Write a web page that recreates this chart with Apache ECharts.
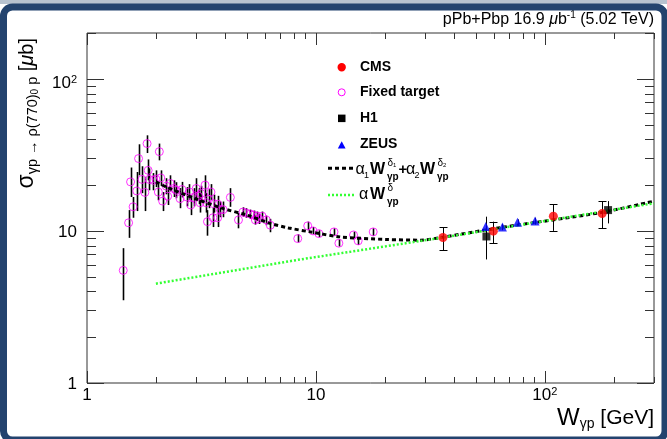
<!DOCTYPE html>
<html><head><meta charset="utf-8">
<script src="https://cdn.jsdelivr.net/npm/echarts@6/dist/echarts.min.js"></script>
<style>html,body{margin:0;padding:0;background:#fff}#c{width:667px;height:439px}</style>
</head><body><div id="c"></div>
<script>
// ---- axis ranges & ticks ----
var xRange = [1, 300];
var yRange = [1, 200];
var xTickMajor = [1, 10, 100];
var xTickMinor = [2,3,4,5,6,7,8,9,20,30,40,50,60,70,80,90,200,300];
var yTickMajor = [1, 10, 100];
var yTickMinor = [2,3,4,5,6,7,8,9,20,30,40,50,60,70,80,90,200];

// ---- Fixed target (W [GeV], sigma [ub], lower, upper) ----
var ftW =     [1.44,1.52,1.59,1.55,1.65,1.68,1.74,1.79,1.83,1.85,1.87,1.95,2.07,2.00,2.05,2.10,2.14,2.22,2.25,2.31,2.39,2.45,2.55,2.60,2.73,2.80,2.84,2.92,3.00,3.07,3.15,3.12,3.28,3.32,3.40,3.48,3.57,3.36,3.55,3.72,3.72,3.82,3.93,4.23,4.59,4.80,4.96,5.17,5.34,5.53,5.64,5.82,6.07,6.32,8.33,9.21,9.72,10.3,12.0,12.6,14.6,15.3,17.8,5.44];
var ftSigma = [5.5,11.3,14.4,21.0,18.3,29.9,21.8,17.9,37.5,25.0,21.8,21.5,33.2,21.9,18.0,22.3,15.7,19.7,16.9,20.5,19.0,18.5,16.3,18.7,16.7,18.0,14.8,16.6,19.0,16.9,17.6,15.3,20.0,15.3,16.1,18.0,15.1,11.5,12.2,15.0,12.2,13.8,13.8,16.6,11.8,13.3,13.1,12.9,12.7,12.5,12.0,12.5,11.8,10.9,8.9,10.8,10.0,9.6,9.85,8.3,9.4,8.6,9.85,11.8];
var ftLow =   [3.5,9.0,12.2,16.7,13.5,23.2,17.7,13.5,32.5,21.5,18.5,18.5,29.1,19.4,15.9,19.7,13.5,17.4,14.8,18.2,16.7,16.4,14.1,16.6,14.5,16.0,12.7,14.5,16.4,15.0,15.7,13.2,16.4,13.2,14.1,16.0,13.2,9.3,10.6,13.3,10.6,12.3,12.3,14.4,10.4,12.4,12.2,12.0,11.8,11.6,11.1,11.6,10.9,9.8,8.4,10.1,9.5,9.1,9.3,7.9,8.9,8.1,9.3,11.0];
var ftHigh =  [7.7,13.7,16.7,26.1,24.4,37.1,26.6,22.6,42.5,29.5,25.8,24.0,37.5,25.0,20.6,25.0,18.0,22.2,19.4,23.2,21.5,20.9,19.1,21.0,19.4,20.3,17.2,19.1,22.2,19.1,19.8,17.7,23.2,17.7,18.8,20.3,17.3,13.7,14.2,17.0,14.2,15.6,15.6,19.1,13.1,14.3,14.1,13.8,13.6,13.4,12.9,13.4,12.6,12.0,9.5,11.5,10.6,10.1,10.4,8.8,9.9,9.1,10.4,12.6];

// ---- CMS ----
var cmsW = [35.9, 59.6, 109, 178];
var cmsSigma = [9.05, 9.96, 12.5, 13.0];
var cmsLow = [7.47, 8.27, 10.0, 10.4];
var cmsHigh = [10.6, 11.5, 15.0, 15.7];

// ---- H1 ----
var h1W = [55.6, 189];
var h1Sigma = [9.19, 13.7];
var h1Low = [6.49, 11.2];
var h1High = [12.4, 15.7];

// ---- ZEUS ----
var zeusW = [55.2, 65.3, 76.0, 90.7];
var zeusSigma = [10.7, 10.6, 11.4, 11.6];
var zeusLow = [10.2, 10.1, 10.9, 11.0];
var zeusHigh = [11.2, 11.1, 11.9, 12.2];

// ---- fit curves ----
var fit2W = [2, 2.23, 3, 3.95, 5.0, 6.32, 7.58, 9.46, 12.8, 20.5, 28.7, 35.1, 66.4, 176, 300];
var fit2Sigma = [21, 19.4, 16.2, 14.0, 12.7, 11.2, 10.46, 9.85, 9.13, 8.78, 8.69, 9.05, 10.6, 13.2, 15.7];
var fit1W = [2, 8.55, 35.1, 300];
var fit1Sigma = [4.5, 6.49, 9.0, 15.2];

var FONT = '"Liberation Sans", Arial, Helvetica, sans-serif';

function zip(a, b) { return a.map(function (v, i) { return [v, b[i]]; }); }
function zip3(a, b, c) { return a.map(function (v, i) { return [v, b[i], c[i]]; }); }

function errRender(capHalf, lw) {
  return function (params, api) {
    var x = api.value(0), lo = api.value(1), hi = api.value(2);
    var a = api.coord([x, lo]), b = api.coord([x, hi]);
    var cx = Math.round(a[0]) + 0.5;
    var kids = [{ type: 'line', shape: { x1: cx, y1: a[1], x2: cx, y2: b[1] }, style: { stroke: '#000', lineWidth: lw } }];
    if (capHalf) {
      kids.push({ type: 'line', shape: { x1: cx - capHalf, y1: Math.round(a[1]) + 0.5, x2: cx + capHalf, y2: Math.round(a[1]) + 0.5 }, style: { stroke: '#000', lineWidth: 1 } });
      kids.push({ type: 'line', shape: { x1: cx - capHalf, y1: Math.round(b[1]) + 0.5, x2: cx + capHalf, y2: Math.round(b[1]) + 0.5 }, style: { stroke: '#000', lineWidth: 1 } });
    }
    return { type: 'group', children: kids };
  };
}

function xTickRender(params, api) {
  var v = api.value(0), major = api.value(2);
  var b = api.coord([v, yRange[0]]), t = api.coord([v, yRange[1]]);
  var x = Math.round(b[0]) + 0.5, len = major ? 12 : 6;
  return { type: 'group', children: [
    { type: 'line', shape: { x1: x, y1: b[1], x2: x, y2: b[1] - len }, style: { stroke: '#333', lineWidth: 1 } },
    { type: 'line', shape: { x1: x, y1: t[1], x2: x, y2: t[1] + len }, style: { stroke: '#333', lineWidth: 1 } }
  ] };
}
function yTickRender(params, api) {
  var v = api.value(1), major = api.value(2);
  var l = api.coord([xRange[0], v]), r = api.coord([xRange[1], v]);
  var y = Math.round(l[1]) + 0.5, len = major ? 17 : 9;
  return { type: 'group', children: [
    { type: 'line', shape: { x1: l[0], y1: y, x2: l[0] + len, y2: y }, style: { stroke: '#333', lineWidth: 1 } },
    { type: 'line', shape: { x1: r[0], y1: y, x2: r[0] - len, y2: y }, style: { stroke: '#333', lineWidth: 1 } }
  ] };
}

function powLabel(v, short) {
  var lg = Math.log10(v), e = Math.round(lg);
  if (Math.abs(lg - e) > 1e-6) return '';
  if (e === 0) return short + '|1}';
  if (e === 1) return short + '|10}';
  return '{p|10}{sup|' + e + '}';
}

var chart = echarts.init(document.getElementById('c'), null, { renderer: 'canvas' });

var xTickData = xTickMajor.map(function (v) { return [v, yRange[0], 1]; }).concat(xTickMinor.map(function (v) { return [v, yRange[0], 0]; }));
var yTickData = yTickMajor.map(function (v) { return [xRange[0], v, 1]; }).concat(yTickMinor.map(function (v) { return [xRange[0], v, 0]; }));

function lt(x, y, text, size, weight, extra) {
  var st = { text: text, fontSize: size, fontFamily: FONT, fontWeight: weight || 'normal', fill: '#000', align: 'left', verticalAlign: 'middle' };
  if (extra) for (var k in extra) st[k] = extra[k];
  return { type: 'text', x: x, y: y, style: st, z: 50 };
}

var graphics = [
  // outer frame
  { type: 'rect', shape: { x: 0, y: 0, width: 667, height: 4 }, style: { fill: '#b7c2cf' }, z: 99 },
  { type: 'rect', shape: { x: 3.5, y: 7, width: 661.5, height: 433, r: 9 }, style: { fill: null, stroke: '#23436e', lineWidth: 7 }, z: 100 },
  // title
  { type: 'text', x: 654, y: 20, z: 50, style: {
      text: '{n|pPb+Pbp 16.9 }{mu|μ}{n|b}{sup|-1}{n| (5.02 TeV)}', align: 'right', verticalAlign: 'middle',
      rich: {
        n: { fontSize: 16, fontFamily: FONT, fill: '#000', lineHeight: 20 },
        mu: { fontSize: 16, fontFamily: FONT, fontStyle: 'italic', fill: '#000', lineHeight: 20 },
        sup: { fontSize: 10, fontFamily: FONT, fill: '#000', lineHeight: 10, verticalAlign: 'top' }
      } } },
  // y title
  { type: 'text', x: 27, y: 38, rotation: Math.PI / 2, z: 50, style: {
      text: '{s|σ}{sb|γp → ρ(770)}{sp|0}{sb| p}{u| [}{mu|μ}{u|b]}', align: 'right', verticalAlign: 'middle',
      rich: {
        s: { fontSize: 23, fontFamily: FONT, fill: '#000', lineHeight: 26 },
        sb: { fontSize: 14.5, fontFamily: FONT, fill: '#000', lineHeight: 10, verticalAlign: 'bottom' },
        sp: { fontSize: 10, fontFamily: FONT, fill: '#000', lineHeight: 18, verticalAlign: 'bottom' },
        u: { fontSize: 20, fontFamily: FONT, fill: '#000', lineHeight: 26 },
        mu: { fontSize: 20, fontFamily: FONT, fontStyle: 'italic', fill: '#000', lineHeight: 26 }
      } } },
  // x title
  { type: 'text', x: 654, y: 418, z: 50, style: {
      text: '{w|W}{sb|γp}{g| [GeV]}', align: 'right', verticalAlign: 'middle',
      rich: {
        w: { fontSize: 24, fontFamily: FONT, fill: '#000', lineHeight: 26 },
        g: { fontSize: 21, fontFamily: FONT, fill: '#000', lineHeight: 26 },
        sb: { fontSize: 14, fontFamily: FONT, fill: '#000', lineHeight: 10, verticalAlign: 'bottom' }
      } } },
  // legend markers
  { type: 'circle', shape: { cx: 341.7, cy: 67.3, r: 4.2 }, style: { fill: '#ff0000' }, z: 50 },
  { type: 'circle', shape: { cx: 341.7, cy: 92.3, r: 3.5 }, style: { fill: null, stroke: '#ff00ff', lineWidth: 1 }, z: 50 },
  { type: 'rect', shape: { x: 338, y: 114.6, width: 7.5, height: 7.5 }, style: { fill: '#000' }, z: 50 },
  { type: 'polygon', shape: { points: [[341.7, 141.3], [345.6, 148.4], [337.8, 148.4]] }, style: { fill: '#0000ff' }, z: 50 },
  { type: 'line', shape: { x1: 328, y1: 168.3, x2: 354, y2: 168.3 }, style: { stroke: '#000', lineWidth: 3, lineDash: [4, 3] }, z: 50 },
  { type: 'line', shape: { x1: 328, y1: 195, x2: 354, y2: 195 }, style: { stroke: '#33ff33', lineWidth: 2.5, lineDash: [2, 2] }, z: 50 },
  lt(360, 67.3, 'CMS', 14, 'bold'),
  lt(360, 92.3, 'Fixed target', 14, 'bold'),
  lt(360, 118.3, 'H1', 14, 'bold'),
  lt(360, 144.3, 'ZEUS', 14, 'bold'),
  // row 5 formula
  lt(355.5, 170, 'α', 16),
  lt(364, 175.5, '1', 9),
  lt(370, 170, 'W', 16, 'bold'),
  lt(387.5, 163.5, 'δ', 10),
  lt(393, 165.5, '1', 6),
  lt(387, 177, 'γp', 10, 'bold'),
  lt(398.5, 170, '+', 15, 'bold'),
  lt(406, 170, 'α', 16),
  lt(414.5, 175.5, '2', 9),
  lt(420, 170, 'W', 16, 'bold'),
  lt(437.5, 163.5, 'δ', 10),
  lt(443, 165.5, '2', 6),
  lt(437, 177, 'γp', 10, 'bold'),
  // row 6 formula
  lt(359, 195, 'α', 16),
  lt(370, 195, 'W', 16, 'bold'),
  lt(387.5, 188.5, 'δ', 10),
  lt(387, 202, 'γp', 10, 'bold')
];

var option = {
  animation: false,
  backgroundColor: '#fff',
  textStyle: { fontFamily: FONT },
  grid: { left: 87, right: 13, top: 33, bottom: 56, show: true, borderColor: '#333', borderWidth: 1, backgroundColor: 'transparent', containLabel: false, outerBoundsMode: 'none' },
  xAxis: {
    type: 'log', logBase: 10, min: xRange[0], max: xRange[1],
    axisLine: { show: false }, axisTick: { show: false }, splitLine: { show: false }, minorTick: { show: false },
    axisLabel: {
      margin: 1, color: '#000', fontSize: 17, fontFamily: FONT, hideOverlap: false,
      formatter: function (v) { return powLabel(v, '{p'); },
      rich: {
        p: { fontSize: 17, fontFamily: FONT, color: '#000', lineHeight: 17, padding: [6, 0, 0, 0] },
        sup: { fontSize: 11, fontFamily: FONT, color: '#000', lineHeight: 11, padding: [2, 0, 0, 0], verticalAlign: 'top' }
      }
    }
  },
  yAxis: {
    type: 'log', logBase: 10, min: yRange[0], max: yRange[1],
    axisLine: { show: false }, axisTick: { show: false }, splitLine: { show: false }, minorTick: { show: false },
    axisLabel: {
      margin: 10, color: '#000', fontSize: 17, fontFamily: FONT, hideOverlap: false,
      formatter: function (v) { return powLabel(v, '{a'); },
      rich: {
        a: { fontSize: 17, fontFamily: FONT, color: '#000', lineHeight: 17, padding: [3, 0, 0, 0] },
        p: { fontSize: 17, fontFamily: FONT, color: '#000', lineHeight: 17, padding: [10, 0, 0, 0] },
        sup: { fontSize: 11, fontFamily: FONT, color: '#000', lineHeight: 12, padding: [4, 0, 0, 0], verticalAlign: 'top' }
      }
    }
  },
  tooltip: { show: false },
  graphic: graphics,
  series: [
    { type: 'custom', name: 'xticks', data: xTickData, encode: { x: 0, y: 1 }, renderItem: xTickRender, silent: true, clip: false, z: 5 },
    { type: 'custom', name: 'yticks', data: yTickData, encode: { x: 0, y: 1 }, renderItem: yTickRender, silent: true, clip: false, z: 5 },
    { type: 'custom', name: 'ftErr', data: zip3(ftW, ftLow, ftHigh), encode: { x: 0, y: [1, 2] }, renderItem: errRender(0, 1.6), silent: true, z: 2 },
    { type: 'scatter', name: 'Fixed target', data: zip(ftW, ftSigma), symbol: 'circle', symbolSize: 8,
      itemStyle: { color: 'rgba(0,0,0,0)', borderColor: '#ff00ff', borderWidth: 1 }, silent: true, z: 3 },
    { type: 'line', name: 'fit2', data: zip(fit2W, fit2Sigma), smooth: 0.3, showSymbol: false, symbol: 'none',
      lineStyle: { color: '#000', width: 3, type: [4, 3] }, silent: true, z: 4 },
    { type: 'line', name: 'fit1', data: zip(fit1W, fit1Sigma), showSymbol: false, symbol: 'none',
      lineStyle: { color: '#33ff33', width: 2.5, type: [2, 2] }, silent: true, z: 4 },
    { type: 'custom', name: 'cmsErr', data: zip3(cmsW, cmsLow, cmsHigh), encode: { x: 0, y: [1, 2] }, renderItem: errRender(4, 1), silent: true, z: 6 },
    { type: 'custom', name: 'h1Err', data: zip3(h1W, h1Low, h1High), encode: { x: 0, y: [1, 2] }, renderItem: errRender(0, 1), silent: true, z: 6 },
    { type: 'custom', name: 'zeusErr', data: zip3(zeusW, zeusLow, zeusHigh), encode: { x: 0, y: [1, 2] }, renderItem: errRender(0, 1), silent: true, z: 6 },
    { type: 'scatter', name: 'ZEUS', data: zip(zeusW, zeusSigma), symbol: 'triangle', symbolSize: 9, itemStyle: { color: '#0000ff' }, silent: true, z: 7 },
    { type: 'scatter', name: 'H1', data: zip(h1W, h1Sigma), symbol: 'rect', symbolSize: 8, itemStyle: { color: '#000' }, silent: true, z: 7 },
    { type: 'scatter', name: 'CMS', data: zip(cmsW, cmsSigma), symbol: 'circle', symbolSize: 9, itemStyle: { color: '#ff0000' }, silent: true, z: 8 }
  ]
};
chart.setOption(option);
</script></body></html>
